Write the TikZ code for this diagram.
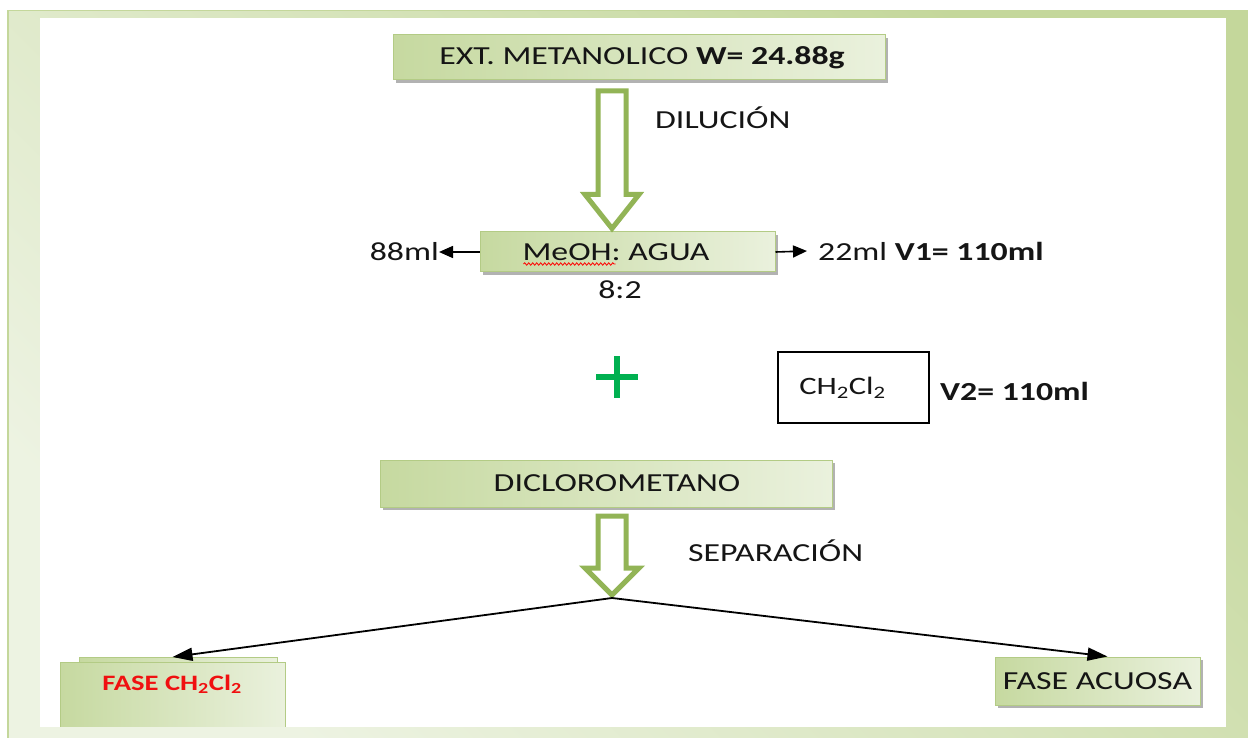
\documentclass[tikz,border=0pt]{standalone}
\usepackage{fontspec}
\setmainfont{Carlito}[FakeStretch=1.3]
\usetikzlibrary{arrows.meta,shadows,calc,decorations.pathmorphing}
\definecolor{frameDark}{HTML}{C4D79B}
\definecolor{frameLight}{HTML}{EDF3E2}
\definecolor{boxL}{HTML}{C6D9A0}
\definecolor{boxR}{HTML}{EAF1DD}
\definecolor{boxLine}{HTML}{B3CB85}
\definecolor{arrGreen}{HTML}{92B456}
\definecolor{plusGreen}{HTML}{00B050}
\definecolor{faseRed}{HTML}{F01010}
\definecolor{txtGray}{HTML}{151515}
\newcommand\hollowarrow[3]{%
  \draw[hollow] let \p1=#1, \p2=#2 in
    (\x1-14pt,\y1) -- (\x1+14pt,\y1) -- (\x1+14pt,\y2+#3pt) -- (\x1+27pt,\y2+#3pt)
    -- (\x1,\y2) -- (\x1-27pt,\y2+#3pt) -- (\x1-14pt,\y2+#3pt) -- cycle;}
\begin{document}
\begin{tikzpicture}[x=1pt,y=-1pt,
  txt/.style={inner sep=0pt, text=txtGray, font=\fontsize{26}{31}\selectfont},
  greenflat/.style={draw=boxLine, line width=1pt, left color=boxL, right color=boxR, inner sep=0pt, text=txtGray, font=\fontsize{26}{31}\selectfont},
  greenbox/.style={greenflat, drop shadow={shadow xshift=3pt, shadow yshift=-3pt, fill=black, opacity=0.3}},
  hollow/.style={draw=arrGreen, line width=5pt, fill=white, line join=miter},
  blk/.style={-{Triangle[length=14pt,width=12pt]}, line width=1.6pt},
  sepline/.style={-{Triangle[length=20pt,width=13pt]}, line width=1.8pt}]
\useasboundingbox (0,0) rectangle (1248,738);
% frame
\fill[frameDark] (7,10) rectangle (1248,738);
\shade[top color=frameDark, bottom color=frameLight, shading angle=-45] (9,12) rectangle (1248,738);
\fill[white] (40,18) rectangle (1226,727);
% reference points for the hollow arrows
\coordinate (ax) at (612,0);
\coordinate (apex) at (612,598);
% nodes
\node[greenbox, minimum width=492pt, minimum height=45pt] (top) at (639,57.5) {\hspace{6pt}EXT. METANOLICO \textbf{W= 24.88g}};
\node[greenbox, minimum width=295pt, minimum height=40pt] (meoh) at (627.5,252) {MeOH: AGUA\hspace{23pt}\mbox{}};
\node[txt] (ratio) at (620,290) {8:2};
\node[txt, anchor=east] (l88) at (439,252) {88ml};
\node[txt, anchor=west] (v1) at (818,251) {22ml \textbf{V1= 110ml}};
\node[txt, anchor=west] (dil) at (655,118) {DILUCIÓN};
\node[txt, draw=black, line width=1.5pt, fill=white, minimum width=151pt, minimum height=71pt, font=\fontsize{25}{30}\selectfont] (ch2) at (853.5,387.5) {CH\textsubscript{2}Cl\textsubscript{2}\hspace{22pt}\mbox{}};
\node[txt, anchor=west] (v2) at (940,391) {\textbf{V2= 110ml}};
\node[greenbox, minimum width=452pt, minimum height=47pt] (diclo) at (606,483.5) {\hspace{22pt}DICLOROMETANO};
\node[txt, anchor=west] (sep) at (688,551) {SEPARACIÓN};
\node[greenflat, minimum width=198pt, minimum height=72pt, anchor=north] (fase1back) at (178,657) {};
\node[greenflat, minimum width=225pt, minimum height=70pt, anchor=north] (fase1) at (172.5,662) {};
\node[inner sep=0pt, font=\bfseries\fontsize{22}{26}\selectfont, text=faseRed] (fase1txt) at (172,684) {FASE CH\textsubscript{2}Cl\textsubscript{2}};
\node[greenbox, minimum width=205pt, minimum height=48pt, font=\fontsize{26}{30}\selectfont] (fase2) at (1097.5,681) {FASE ACUOSA};
% bottom band over the cut box
\fill[frameLight] (38,727) rectangle (300,738);
% spell-check squiggle
\draw[red, line width=0.8pt, decorate, decoration={snake, amplitude=1.2pt, segment length=4pt}]
  ($(meoh.center)+(-104,12)$) -- ($(meoh.center)+(-12,12)$);
% plus sign
\draw[plusGreen, line width=6pt] (596,377) -- (638,377) (617,356) -- (617,398);
% connectors
\hollowarrow{($(ax |- top.south)+(0,10.5)$)}{($(ax |- meoh.north)+(0,-3)$)}{34}
\hollowarrow{($(ax |- diclo.south)+(0,8.5)$)}{($(apex)+(0,-3)$)}{27}
\draw[blk] (meoh.west) -- (l88.east);
\draw[blk] (meoh.east) -- ($(v1.west)+(-11,0)$);
\draw[sepline] (apex) -- (fase1.north |- fase1back.north);
\draw[sepline] (apex) -- ($(fase2.north)+(10,0)$);
\end{tikzpicture}
\end{document}
